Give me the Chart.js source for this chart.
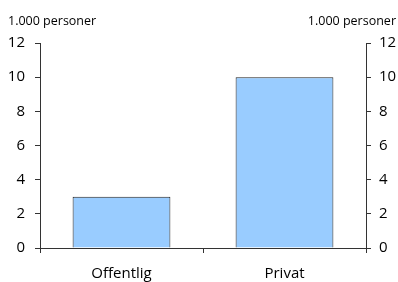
<!DOCTYPE html>
<html>
<head>
<meta charset="utf-8">
<script src="https://cdn.jsdelivr.net/npm/chart.js@4/dist/chart.umd.min.js"></script>
<style>
  html, body { margin: 0; padding: 0; background: #fff; }
  #wrap { width: 398px; height: 282px; }
</style>
</head>
<body>
<div id="wrap"><canvas id="c" width="398" height="282"></canvas></div>
<script>
const categories = ['Offentlig', 'Privat'];
const persons = [3, 10];
const yTicks = [0, 2, 4, 6, 8, 10, 12];
const unitLabel = '1.000 personer';

const FONT = '"Open Sans", "Noto Sans", sans-serif';

// draws the unit text above both y axes
const unitTitles = {
  id: 'unitTitles',
  afterDraw(chart) {
    const ctx = chart.ctx;
    ctx.save();
    ctx.font = '12.5px ' + FONT;
    ctx.fillStyle = '#000';
    ctx.textBaseline = 'alphabetic';
    ctx.textAlign = 'left';
    ctx.fillText(unitLabel, 8, 25);
    ctx.textAlign = 'right';
    ctx.fillText(unitLabel, chart.width - 2, 25);
    ctx.restore();
  }
};

const axisGrid = {
  drawOnChartArea: false,
  color: '#333',
  tickLength: 5,
  tickColor: '#333'
};

new Chart(document.getElementById('c').getContext('2d'), {
  type: 'bar',
  data: {
    labels: categories,
    datasets: [{
      data: persons,
      backgroundColor: '#99CCFF',
      borderColor: '#222',
      borderWidth: 1,
      barPercentage: 0.6,
      categoryPercentage: 1
    }]
  },
  options: {
    responsive: false,
    animation: false,
    layout: { padding: { top: 43 } },
    plugins: { legend: { display: false }, tooltip: { enabled: false } },
    scales: {
      x: {
        grid: { ...axisGrid, offset: true },
        border: { color: '#333' },
        ticks: { color: '#000', font: { family: FONT, size: 15 }, padding: 12 },
        afterFit(s) { s.height = 34; }
      },
      y: {
        position: 'left',
        min: 0, max: 12,
        grid: axisGrid,
        border: { color: '#333' },
        afterBuildTicks(s) { s.ticks = yTicks.map(v => ({ value: v })); },
        ticks: { color: '#000', font: { family: FONT, size: 15 }, padding: 10 },
        afterFit(s) { s.width = 40; }
      },
      y2: {
        position: 'right',
        min: 0, max: 12,
        grid: axisGrid,
        border: { color: '#333' },
        afterBuildTicks(s) { s.ticks = yTicks.map(v => ({ value: v })); },
        ticks: { color: '#000', font: { family: FONT, size: 15 }, padding: 8 },
        afterFit(s) { s.width = 32; }
      }
    }
  },
  plugins: [unitTitles]
});
</script>
</body>
</html>
